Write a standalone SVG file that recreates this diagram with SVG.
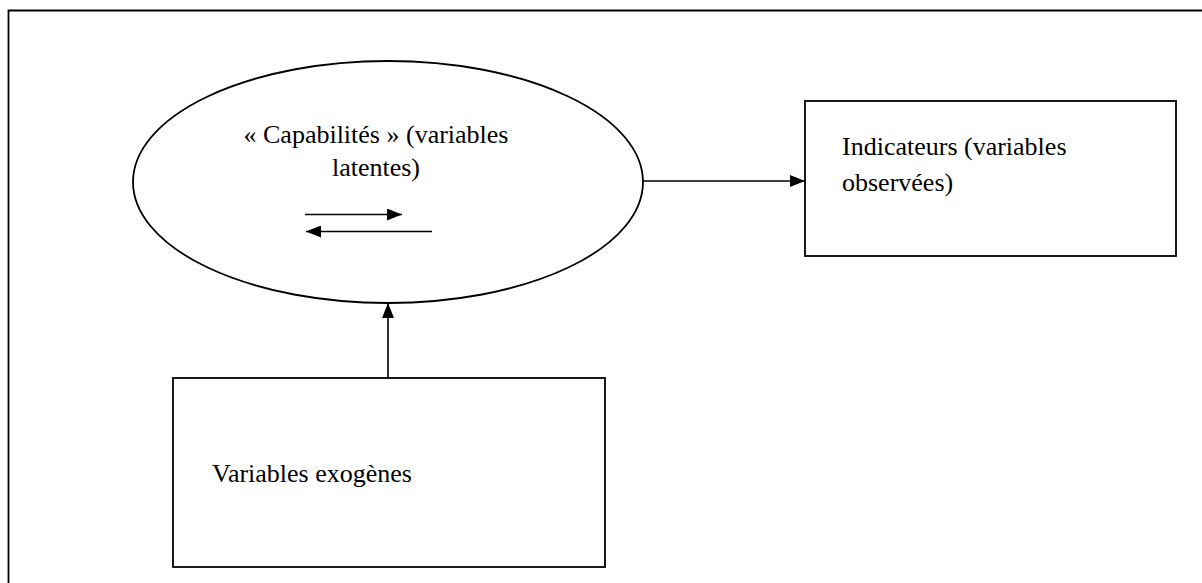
<svg xmlns="http://www.w3.org/2000/svg" width="1202" height="583" viewBox="0 0 1202 583">
<style>
.shape{fill:#fff;stroke:#000;stroke-width:1.8}
.frame{fill:none;stroke:#000;stroke-width:1.8}
.conn{fill:none;stroke:#000;stroke-width:1.6}
text{font-family:"Liberation Serif","Times New Roman",serif;font-size:26px;fill:#000}
</style>
<defs>
<marker id="ah" markerUnits="userSpaceOnUse" markerWidth="16" markerHeight="12" refX="15" refY="6" orient="auto">
<path d="M0,0 L15,6 L0,12 Z" fill="#000"/>
</marker>
</defs>
<rect width="1202" height="583" fill="#fff"/>
<path class="frame" d="M8.5,583 V10.5 H1202"/>
<g id="capabilites">
<ellipse class="shape" cx="388" cy="182" rx="255" ry="121"/>
<text x="376" y="143" text-anchor="middle">« Capabilités » (variables</text>
<text x="376" y="176" text-anchor="middle">latentes)</text>
<line class="conn" x1="305" y1="214.5" x2="402" y2="214.5" marker-end="url(#ah)"/>
<line class="conn" x1="432" y1="231.5" x2="306" y2="231.5" marker-end="url(#ah)"/>
</g>
<g id="indicateurs">
<rect class="shape" x="805" y="101" width="371" height="155"/>
<text x="842" y="155">Indicateurs (variables</text>
<text x="842" y="191">observées)</text>
</g>
<g id="exogenes">
<rect class="shape" x="173" y="378" width="432" height="189"/>
<text x="212" y="482">Variables exogènes</text>
</g>
<g id="connectors">
<line class="conn" x1="643" y1="181" x2="805" y2="181" marker-end="url(#ah)"/>
<line class="conn" x1="388" y1="378" x2="388" y2="303" marker-end="url(#ah)"/>
</g>
</svg>
